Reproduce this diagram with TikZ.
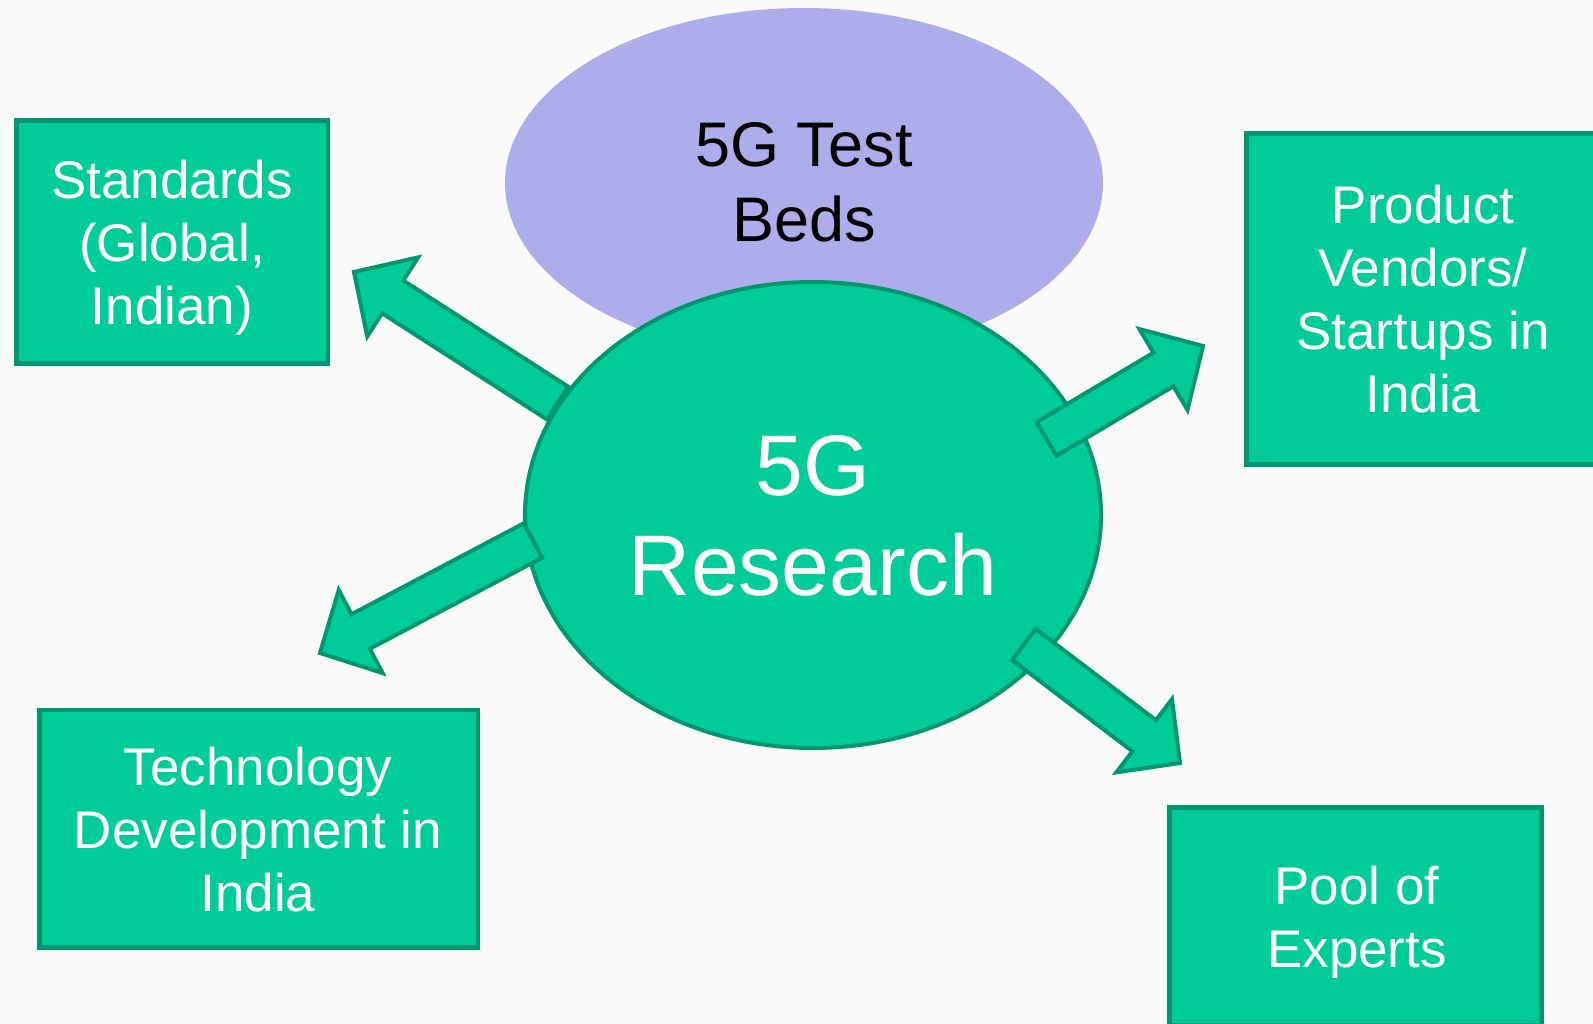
\documentclass[tikz,border=0pt]{standalone}
\usepackage{fontspec}
\setmainfont{Liberation Sans}
\usetikzlibrary{shapes.geometric,calc}
\definecolor{bg}{HTML}{FAFAFA}
\definecolor{grn}{RGB}{0,204,153}
\definecolor{grnd}{RGB}{0,150,110}
\definecolor{purp}{RGB}{173,173,235}
% name, tail, tip, shaft half width, head half width, head length
\newcommand{\blockarrow}[6]{%
  \coordinate (#1b) at ($(#3)!#6!(#2)$);
  \draw[arrowstyle] ($(#2)!#4!90:(#3)$) -- ($(#1b)!#4!90:(#3)$) -- ($(#1b)!#5!90:(#3)$) -- (#3)
    -- ($(#1b)!#5!-90:(#3)$) -- ($(#1b)!#4!-90:(#3)$) -- ($(#2)!#4!-90:(#3)$) -- cycle;}
\begin{document}
\begin{tikzpicture}[x=1pt,y=-1pt,
  boxstyle/.style={draw=grnd, fill=grn, line width=4.5pt, rectangle, inner sep=0pt},
  boxtext/.style={text=white, align=center, font=\fontsize{53}{63}\selectfont, inner sep=0pt},
  arrowstyle/.style={draw=grnd, fill=grn, line width=4pt, line join=miter}]
\useasboundingbox (0,0) rectangle (1593,1024);
\fill[bg] (0,0) rectangle (1593,1024);

% 5G Test Beds
\node[ellipse, fill=purp, minimum width=598pt, minimum height=350pt, inner sep=0pt] (testbeds) at (804,183) {};
\node[align=center, inner sep=0pt, font=\fontsize{63}{75}\selectfont] (testbedstext) at ($(testbeds)+(0,21)$)
  {\smash{5G Test}\\\smash{Beds}};

% 5G Research
\node[ellipse, draw=grnd, fill=grn, line width=4pt, minimum width=576pt, minimum height=466pt, inner sep=0pt] (research) at (813,515) {};

% arrows
\coordinate (ulT) at (557.5,403);  \coordinate (ulP) at (354,272);
\coordinate (llT) at (533,540.5);  \coordinate (llP) at (320,653);
\coordinate (urT) at (1046.5,439); \coordinate (urP) at (1203,346);
\coordinate (lrT) at (1024,644.5); \coordinate (lrP) at (1180,763);
\blockarrow{ul}{ulT}{ulP}{19.5pt}{47pt}{46pt}
\blockarrow{ll}{llT}{llP}{19.5pt}{47pt}{46pt}
\blockarrow{ur}{urT}{urP}{19.5pt}{47pt}{46pt}
\blockarrow{lr}{lrT}{lrP}{19.5pt}{46pt}{45pt}

\node[align=center, inner sep=0pt, text=white, font=\fontsize{86}{100}\selectfont] (researchtext) at ($(research)+(0,30)$)
  {\smash{5G}\\\smash{Research}};

% boxes
\node[boxstyle, minimum width=311.5pt, minimum height=243pt] (std) at (172.25,242) {};
\node[boxtext] (stdtext) at (172,261.3) {\smash{Standards}\\\smash{(Global,}\\\smash{Indian)}};

\node[boxstyle, minimum width=438.5pt, minimum height=237.5pt] (tech) at (258.75,828.75) {};
\node[boxtext] (techtext) at (258,848.3) {\smash{Technology}\\\smash{Development in}\\\smash{India}};

\node[boxstyle, minimum width=353pt, minimum height=331pt] (prod) at (1423,299) {};
\node[boxtext] (prodtext) at (1423,318.1) {\smash{Product}\\\smash{Vendors/}\\\smash{Startups in}\\\smash{India}};

\node[boxstyle, minimum width=372pt, minimum height=218pt] (pool) at (1355.5,916.5) {};
\node[boxtext] (pooltext) at (1357,935.5) {\smash{Pool of}\\\smash{Experts}};
\end{tikzpicture}
\end{document}
